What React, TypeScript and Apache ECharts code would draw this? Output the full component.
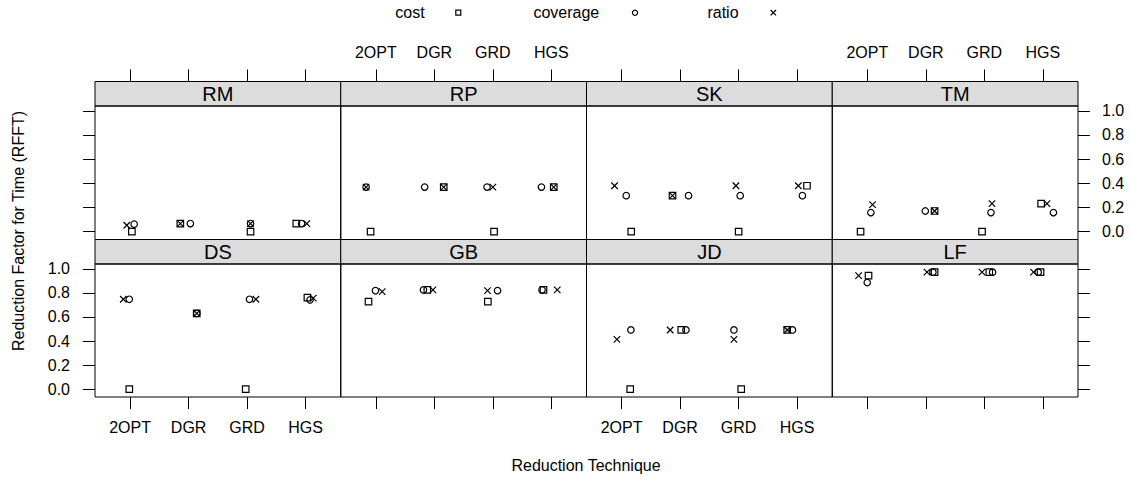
import React, { useEffect, useRef } from "react";
import * as echarts from "echarts";

const panels = ["RM", "RP", "SK", "TM", "DS", "GB", "JD", "LF"];
const techniques = ["2OPT", "DGR", "GRD", "HGS"];
const yTicks = [0, 0.2, 0.4, 0.6, 0.8, 1.0];
const measures = ["cost", "coverage", "ratio"];

// values per panel (order of panels), per technique
const costValues = [
  [0, 0.067, 0, 0.067],
  [0, 0.369, 0, 0.369],
  [0, 0.298, 0, 0.38],
  [0, 0.171, 0, 0.232],
  [0, 0.63, 0, 0.761],
  [0.728, 0.825, 0.728, 0.825],
  [0, 0.492, 0, 0.492],
  [0.944, 0.972, 0.972, 0.972],
];
const coverageValues = [
  [0.062, 0.067, 0.067, 0.067],
  [0.369, 0.369, 0.369, 0.369],
  [0.298, 0.298, 0.298, 0.298],
  [0.158, 0.171, 0.158, 0.158],
  [0.747, 0.63, 0.747, 0.742],
  [0.819, 0.825, 0.819, 0.825],
  [0.492, 0.492, 0.492, 0.492],
  [0.886, 0.972, 0.972, 0.972],
];
const ratioValues = [
  [0.053, 0.067, 0.067, 0.067],
  [0.369, 0.369, 0.369, 0.369],
  [0.38, 0.298, 0.38, 0.38],
  [0.224, 0.171, 0.232, 0.232],
  [0.747, 0.63, 0.747, 0.756],
  [0.811, 0.825, 0.819, 0.825],
  [0.414, 0.492, 0.414, 0.492],
  [0.944, 0.972, 0.972, 0.972],
];
// jittered technique positions (1..4 = 2OPT..HGS)
const costJitter = [
  [1.03, 1.858, 3.058, 3.84],
  [0.91, 2.16, 3.02, 4.04],
  [1.164, 1.87, 3.0, 4.168],
  [0.884, 2.149, 2.96, 3.97],
  [0.986, 2.138, 2.976, 4.03],
  [0.874, 1.88, 2.914, 3.865],
  [1.147, 2.019, 3.044, 3.83],
  [1.02, 2.149, 3.084, 3.96],
];
const coverageJitter = [
  [1.069, 2.03, 3.058, 3.93],
  [0.833, 1.834, 2.9, 3.83],
  [1.079, 2.144, 3.027, 4.09],
  [1.06, 1.99, 3.113, 4.18],
  [0.986, 2.14, 3.04, 4.075],
  [0.993, 1.814, 3.08, 3.84],
  [1.159, 2.1, 2.92, 3.92],
  [0.998, 2.12, 3.14, 3.92],
];
const ratioJitter = [
  [0.943, 1.858, 3.058, 4.02],
  [0.833, 2.16, 3.0, 4.04],
  [0.879, 1.87, 2.954, 4.02],
  [1.089, 2.149, 3.13, 4.07],
  [0.884, 2.14, 3.15, 4.13],
  [1.108, 1.975, 2.908, 4.1],
  [0.92, 1.83, 2.92, 3.83],
  [0.85, 2.019, 2.959, 3.84],
];

const FONT = "'Liberation Sans', Arial, Helvetica, sans-serif";
const CROSS = "path://M0,0L10,10M10,0L0,10";

export default function App() {
  const ref = useRef<HTMLDivElement>(null);
  useEffect(() => {
    if (!ref.current) return;
    const chart = echarts.init(ref.current, undefined, { renderer: "svg" });

    const colLeft = [95, 340.75, 586.5, 832.25];
    const colW = 245.75;
    const rowTop = [106, 264];
    const rowH = [133.5, 133];
    const stripTop = [81.5, 239.5];
    const stripH = [24.5, 24.5];

    const grids: any[] = [];
    const xAxes: any[] = [];
    const yAxes: any[] = [];
    const series: any[] = [];
    const graphics: any[] = [];

    const symbols = ["rect", "circle", CROSS];
    const valueSets = [costValues, coverageValues, ratioValues];
    const jitterSets = [costJitter, coverageJitter, ratioJitter];

    panels.forEach((name, p) => {
      const row = p < 4 ? 0 : 1;
      const col = p % 4;
      grids.push({
        left: colLeft[col],
        top: rowTop[row],
        width: colW,
        height: rowH[row],
        containLabel: false,
      });
      const showXLabel = row === 0 ? col % 2 === 1 : col % 2 === 0;
      xAxes.push({
        type: "value",
        gridIndex: p,
        min: 0.4,
        max: 4.6,
        position: row === 0 ? "top" : "bottom",
        offset: row === 0 ? stripH[0] : 0,
        axisLine: { show: false, onZero: false },
        splitLine: { show: false },
        axisTick: {
          show: true,
          inside: false,
          length: 12,
          customValues: [1, 2, 3, 4],
          lineStyle: { color: "#000", width: 1 },
        },
        axisLabel: {
          show: showXLabel,
          customValues: [1, 2, 3, 4],
          formatter: (v: number) => techniques[Math.round(v) - 1] ?? "",
          margin: row === 0 ? 21 : 22,
          fontSize: 16,
          color: "#000",
          fontFamily: FONT,
        },
      });
      const isEdge = col === 0 || col === 3;
      const showYLabel = (col === 0 && row === 1) || (col === 3 && row === 0);
      yAxes.push({
        type: "value",
        gridIndex: p,
        min: -0.065,
        max: 1.04,
        position: col === 3 ? "right" : "left",
        axisLine: { show: false, onZero: false },
        splitLine: { show: false },
        axisTick: {
          show: isEdge,
          inside: false,
          length: 12,
          customValues: yTicks,
          lineStyle: { color: "#000", width: 1 },
        },
        axisLabel: {
          show: showYLabel && isEdge,
          customValues: yTicks,
          formatter: (v: number) => v.toFixed(1),
          margin: col === 3 ? 24 : 25,
          fontSize: 16,
          color: "#000",
          fontFamily: FONT,
        },
      });
      measures.forEach((m, k) => {
        series.push({
          type: "scatter",
          name: m,
          xAxisIndex: p,
          yAxisIndex: p,
          symbol: symbols[k],
          symbolSize: 6.5,
          silent: true,
          itemStyle: {
            color: "transparent",
            borderColor: "#000",
            borderWidth: 1.2,
            opacity: 1,
          },
          data: techniques.map((_, i) => [jitterSets[k][p][i], valueSets[k][p][i]]),
        });
      });
      // strip
      graphics.push({
        type: "rect",
        shape: { x: colLeft[col], y: stripTop[row], width: colW, height: stripH[row] },
        style: { fill: "#dcdcdc", stroke: "#000", lineWidth: 1 },
        z: 0,
        silent: true,
      });
      graphics.push({
        type: "text",
        x: colLeft[col] + colW / 2,
        y: stripTop[row] + stripH[row] / 2 + 0.5,
        style: {
          text: name,
          fontSize: 20,
          fontFamily: FONT,
          fill: "#000",
          align: "center",
          verticalAlign: "middle",
        },
        silent: true,
      });
      // panel border
      graphics.push({
        type: "rect",
        shape: { x: colLeft[col], y: rowTop[row], width: colW, height: rowH[row] },
        style: { fill: "none", stroke: "#000", lineWidth: 1 },
        silent: true,
      });
    });

    // legend (text then symbol)
    const legendY = 12.7;
    const legendText = [
      { t: "cost", x: 410 },
      { t: "coverage", x: 566.3 },
      { t: "ratio", x: 723 },
    ];
    legendText.forEach((l) =>
      graphics.push({
        type: "text",
        x: l.x,
        y: legendY,
        style: { text: l.t, fontSize: 16, fontFamily: FONT, fill: "#000", align: "center", verticalAlign: "middle" },
        silent: true,
      })
    );
    graphics.push({
      type: "rect",
      shape: { x: 458.3 - 2.5, y: legendY - 2.5, width: 5, height: 5 },
      style: { fill: "none", stroke: "#000", lineWidth: 1.2 },
      silent: true,
    });
    graphics.push({
      type: "circle",
      shape: { cx: 635, cy: legendY, r: 2.6 },
      style: { fill: "none", stroke: "#000", lineWidth: 1.2 },
      silent: true,
    });
    graphics.push({
      type: "line",
      shape: { x1: 773.3 - 2.7, y1: legendY - 2.7, x2: 773.3 + 2.7, y2: legendY + 2.7 },
      style: { stroke: "#000", lineWidth: 1.2 },
      silent: true,
    });
    graphics.push({
      type: "line",
      shape: { x1: 773.3 + 2.7, y1: legendY - 2.7, x2: 773.3 - 2.7, y2: legendY + 2.7 },
      style: { stroke: "#000", lineWidth: 1.2 },
      silent: true,
    });

    // axis titles
    graphics.push({
      type: "text",
      x: 586,
      y: 465,
      style: {
        text: "Reduction Technique",
        fontSize: 16,
        fontFamily: FONT,
        fill: "#000",
        align: "center",
        verticalAlign: "middle",
      },
      silent: true,
    });
    graphics.push({
      type: "text",
      x: 18,
      y: 231,
      rotation: Math.PI / 2,
      style: {
        text: "Reduction Factor for Time (RFFT)",
        fontSize: 16,
        fontFamily: FONT,
        fill: "#000",
        align: "center",
        verticalAlign: "middle",
      },
      silent: true,
    });

    chart.setOption({
      animation: false,
      textStyle: { fontFamily: FONT },
      grid: grids,
      xAxis: xAxes,
      yAxis: yAxes,
      series,
      graphic: graphics,
    });
    return () => chart.dispose();
  }, []);
  return (
    <div
      ref={ref}
      style={{ position: "absolute", left: 0, top: 0, width: 1130, height: 478, background: "#fff" }}
    />
  );
}
